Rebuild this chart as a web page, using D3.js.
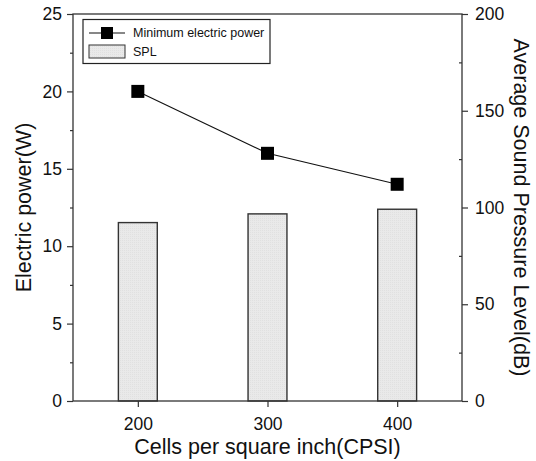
<!DOCTYPE html>
<html><head><meta charset="utf-8">
<script src="https://cdn.jsdelivr.net/npm/d3@7"></script>
<style>
body{margin:0;background:#fff;}
text{font-family:"Liberation Sans",Arial,sans-serif;}
</style></head>
<body>
<svg id="chart" width="536" height="461"></svg>
<script>
const categories = [200, 300, 400];
const powerValues = [20, 16, 14];
const splValues = [92.2, 96.7, 99.1];
const leftTicks = [0, 5, 10, 15, 20, 25];
const rightTicks = [0, 50, 100, 150, 200];
const seriesNames = ["Minimum electric power", "SPL"];

const svg = d3.select("#chart");
const m = {l:73, r:462, t:14, b:401};
const x = d3.scaleLinear().domain([150, 450]).range([m.l, m.r]);
const yL = d3.scaleLinear().domain([0, 25]).range([m.b, m.t]);
const yR = d3.scaleLinear().domain([0, 200]).range([m.b, m.t]);
const axisColor = "#333";

const defs = svg.append("defs");
const pat = defs.append("pattern").attr("id","dots").attr("width",2).attr("height",2).attr("patternUnits","userSpaceOnUse");
pat.append("rect").attr("width",2).attr("height",2).attr("fill","#e9e9e9");
pat.append("rect").attr("width",1).attr("height",1).attr("fill","#e0e0e0");

// bars
svg.append("g").selectAll("rect").data(categories).join("rect")
  .attr("x", (d)=> x(d - 15))
  .attr("width", (d)=> x(d + 15) - x(d - 15))
  .attr("y", (d,i)=> yR(splValues[i]))
  .attr("height", (d,i)=> yR(0) - yR(splValues[i]))
  .attr("fill","url(#dots)").attr("stroke","#333").attr("stroke-width",1.4);

// line
const line = d3.line().x((d,i)=>x(categories[i])).y(d=>yL(d));
svg.append("path").datum(powerValues).attr("d", line)
  .attr("fill","none").attr("stroke","#111").attr("stroke-width",1.1);
const ms = 13;
svg.append("g").selectAll("rect").data(powerValues).join("rect")
  .attr("x",(d,i)=>x(categories[i])-ms/2).attr("y",d=>yL(d)-ms/2)
  .attr("width",ms).attr("height",ms).attr("fill","#000");

function styleAxis(g){
  g.selectAll(".domain").remove();
  g.selectAll("line").attr("stroke",axisColor).attr("stroke-width",1.2);
  g.selectAll("text").attr("fill","#111").style("font-size","17.5px");
}
const gl = svg.append("g").attr("transform",`translate(${m.l},0)`)
  .call(d3.axisLeft(yL).tickValues(leftTicks).tickSize(6).tickPadding(5).tickFormat(d3.format("d")));
styleAxis(gl);
svg.append("g").attr("transform",`translate(${m.l},0)`)
  .call(d3.axisLeft(yL).tickValues(d3.range(2.5,25,5)).tickSize(3).tickFormat(""))
  .call(g=>{g.selectAll(".domain").remove(); g.selectAll("line").attr("stroke",axisColor).attr("stroke-width",1.2);});
const gr = svg.append("g").attr("transform",`translate(${m.r},0)`)
  .call(d3.axisRight(yR).tickValues(rightTicks).tickSize(6).tickPadding(7));
styleAxis(gr);
svg.append("g").attr("transform",`translate(${m.r},0)`)
  .call(d3.axisRight(yR).tickValues(d3.range(25,200,50)).tickSize(-3).tickFormat(""))
  .call(g=>{g.selectAll(".domain").remove(); g.selectAll("line").attr("stroke",axisColor).attr("stroke-width",1.2);});
const gb = svg.append("g").attr("transform",`translate(0,${m.b})`)
  .call(d3.axisBottom(x).tickValues(categories).tickSize(6).tickPadding(11));
styleAxis(gb);

svg.append("rect").attr("x",m.l).attr("y",m.t).attr("width",m.r-m.l).attr("height",m.b-m.t)
  .attr("fill","none").attr("stroke",axisColor).attr("stroke-width",1.3);

svg.append("text").attr("x",(m.l+m.r)/2).attr("y",454).attr("text-anchor","middle")
  .style("font-size","21.5px").attr("fill","#111").text("Cells per square inch(CPSI)");
svg.append("text").attr("transform",`translate(31,${(m.t+m.b)/2}) rotate(-90)`).attr("text-anchor","middle")
  .style("font-size","21.5px").attr("fill","#111").text("Electric power(W)");
svg.append("text").attr("transform",`translate(514,${(m.t+m.b)/2}) rotate(90)`).attr("text-anchor","middle")
  .style("font-size","21.5px").attr("fill","#111").text("Average Sound Pressure Level(dB)");

const lg = svg.append("g");
lg.append("rect").attr("x",83).attr("y",19.5).attr("width",187).attr("height",44)
  .attr("fill","#fff").attr("stroke","#222").attr("stroke-width",1.2);
lg.append("line").attr("x1",89).attr("x2",125).attr("y1",33).attr("y2",33).attr("stroke","#111").attr("stroke-width",1.2);
lg.append("rect").attr("x",107-6).attr("y",33-6).attr("width",12).attr("height",12).attr("fill","#000");
lg.append("rect").attr("x",89).attr("y",45).attr("width",36).attr("height",13)
  .attr("fill","url(#dots)").attr("stroke","#333").attr("stroke-width",1);
lg.selectAll("text.leg").data(seriesNames).join("text").attr("class","leg")
  .attr("x",133).attr("y",(d,i)=>33+i*19).attr("dy","0.35em")
  .style("font-size","12.5px").attr("fill","#111").text(d=>d);
</script>
</body></html>
